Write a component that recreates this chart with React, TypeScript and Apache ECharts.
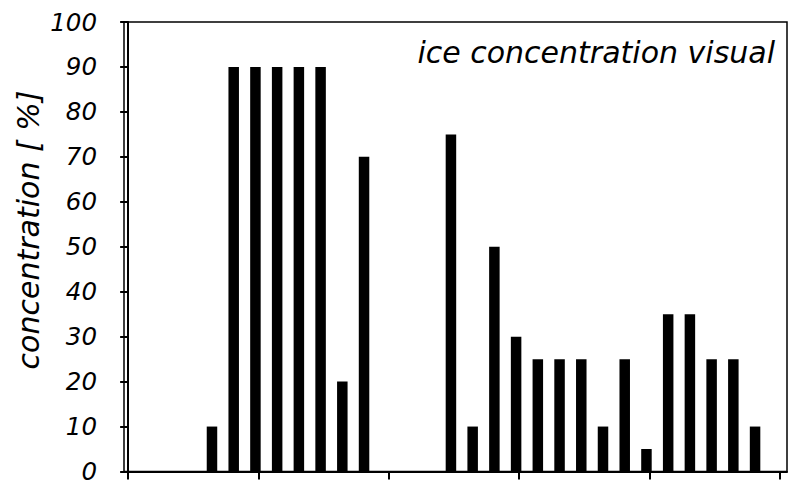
import React, { useEffect, useRef } from "react";
import * as echarts from "echarts";

const days = [4, 5, 6, 7, 8, 9, 10, 11, 15, 16, 17, 18, 19, 20, 21, 22, 23, 24, 25, 26, 27, 28, 29];
const concentration = [10, 90, 90, 90, 90, 90, 20, 70, 75, 10, 50, 30, 25, 25, 25, 10, 25, 5, 35, 35, 25, 25, 10];
const xTicks = [0, 6, 12, 18, 24, 30];
const yTitle = "concentration [ %]";
const chartTitle = "ice concentration visual";

const FONT = "'DejaVu Sans', sans-serif";

export default function App() {
  const ref = useRef<HTMLDivElement>(null);
  useEffect(() => {
    document.body.style.margin = "0";
    const chart = echarts.init(ref.current!, null, { renderer: "svg" });
    const tMin = -0.19;
    const tMax = 30.33;
    const shift = 0.14;
    chart.setOption({
      animation: false,
      backgroundColor: "#fff",
      grid: {
        left: 124,
        right: 8,
        top: 22,
        bottom: 16.5,
        show: true,
        borderColor: "#000",
        borderWidth: 1.5,
        backgroundColor: "transparent",
      },
      title: {
        text: chartTitle,
        right: 20,
        top: 37,
        padding: 0,
        textStyle: {
          fontFamily: FONT,
          fontStyle: "italic",
          fontWeight: "normal",
          fontSize: 30,
          color: "#000",
        },
      },
      xAxis: [
        {
          type: "value",
          min: tMin,
          max: tMax,
          position: "bottom",
          axisLine: { show: true, lineStyle: { color: "#000", width: 2 } },
          axisTick: { show: true, inside: false, length: 8, customValues: xTicks, lineStyle: { color: "#000", width: 2 } },
          axisLabel: { show: false },
          splitLine: { show: false },
        },
        {
          type: "value",
          min: tMin + shift,
          max: tMax + shift,
          position: "bottom",
          show: false,
          splitLine: { show: false },
        },
      ],
      yAxis: {
        type: "value",
        min: 0,
        max: 100,
        interval: 10,
        axisLine: { show: true, lineStyle: { color: "#000", width: 2 } },
        axisTick: { show: true, inside: false, length: 8, lineStyle: { color: "#000", width: 2 } },
        axisLabel: {
          margin: 27,
          fontFamily: FONT,
          fontStyle: "italic",
          fontWeight: "normal",
          fontSize: 24.5,
          color: "#000",
        },
        splitLine: { show: false },
      },
      graphic: [
        {
          type: "text",
          x: 28,
          y: 230,
          rotation: Math.PI / 2,
          style: {
            text: yTitle,
            fontFamily: FONT,
            fontStyle: "italic",
            fontWeight: "normal",
            fontSize: 30,
            fill: "#000",
            align: "center",
            verticalAlign: "middle",
          },
        },
      ],
      series: [
        {
          type: "bar",
          xAxisIndex: 1,
          barWidth: 10.5,
          itemStyle: { color: "#000" },
          data: days.map((d, i) => [d, concentration[i]]),
        },
      ],
    });
    return () => chart.dispose();
  }, []);
  return <div ref={ref} style={{ width: 795, height: 488 }} />;
}
